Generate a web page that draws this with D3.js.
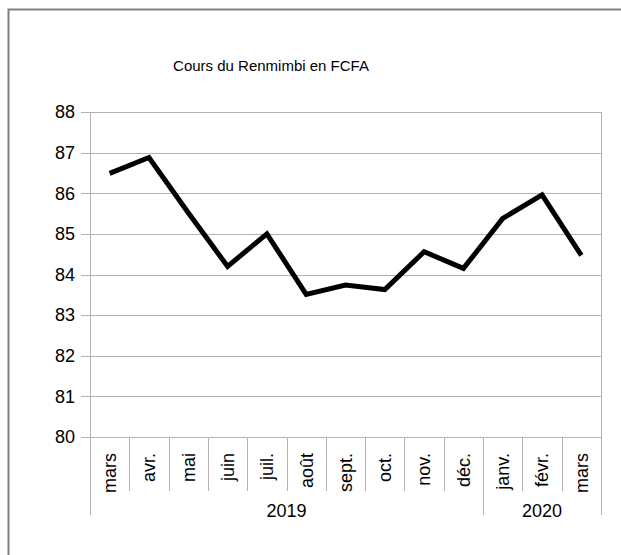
<!DOCTYPE html>
<html lang="fr">
<head>
    <meta charset="utf-8">
    <title>Cours du Renmimbi en FCFA</title>
    <script src="https://d3js.org/d3.v7.min.js"></script>
    <style>
        html, body {
            margin: 0;
            padding: 0;
            background: #fff;
        }
        text {
            font-family: "Liberation Sans", Arial, sans-serif;
            font-size: 18px;
            fill: #000;
        }
        text.title {
            font-size: 15px;
        }
        .grid line {
            stroke: #b3b3b3;
            stroke-width: 1px;
            shape-rendering: crispEdges;
        }
        path.line {
            fill: none;
            stroke: #000;
            stroke-width: 5px;
            stroke-linejoin: miter;
        }
    </style>
</head>
<body>
<script>

    // data
    var months = ["mars", "avr.", "mai", "juin", "juil.", "août", "sept.", "oct.", "nov.", "déc.", "janv.", "févr.", "mars"];
    var values = [86.49, 86.88, 85.52, 84.2, 85.0, 83.51, 83.74, 83.63, 84.56, 84.15, 85.38, 85.96, 84.47];
    var yearLabels = ["2019", "2020"];
    var yearCounts = [10, 3];
    var yTicks = [80, 81, 82, 83, 84, 85, 86, 87, 88];
    var title = "Cours du Renmimbi en FCFA";

    var w = 621, h = 555;
    var plotL = 90, plotR = 601, plotT = 112, plotB = 437;

    var svg = d3.select("body").append("svg")
        .attr("width", w)
        .attr("height", h);

    // outer frame
    svg.append("rect")
        .attr("x", 8.5).attr("y", 9.5)
        .attr("width", 700).attr("height", 700)
        .attr("fill", "none")
        .attr("stroke", "#808080")
        .attr("stroke-width", 2);

    svg.append("text")
        .attr("class", "title")
        .attr("x", 271)
        .attr("y", 71)
        .attr("text-anchor", "middle")
        .text(title);

    var xScale = d3.scaleBand()
        .domain(d3.range(months.length))
        .range([plotL, plotR])
        .padding(0);

    var yScale = d3.scaleLinear()
        .domain([80, 88])
        .range([plotB, plotT]);

    // horizontal grid + y ticks
    var grid = svg.append("g").attr("class", "grid");
    grid.selectAll("line.h")
        .data(yTicks)
        .enter().append("line")
        .attr("class", "h")
        .attr("x1", plotL - 9)
        .attr("x2", plotR)
        .attr("y1", d => Math.round(yScale(d)) + 0.5)
        .attr("y2", d => Math.round(yScale(d)) + 0.5);

    // vertical border lines of plot
    grid.append("line")
        .attr("x1", plotL + 0.5).attr("x2", plotL + 0.5)
        .attr("y1", plotT).attr("y2", plotB);
    grid.append("line")
        .attr("x1", plotR + 0.5).attr("x2", plotR + 0.5)
        .attr("y1", plotT).attr("y2", plotB);

    svg.selectAll("text.ylab")
        .data(yTicks)
        .enter().append("text")
        .attr("class", "ylab")
        .attr("x", 75)
        .attr("y", d => yScale(d))
        .attr("dy", "0.35em")
        .attr("text-anchor", "end")
        .text(d => d);

    // category ticks below the axis
    var bounds = d3.range(months.length + 1).map(i => i < months.length ? xScale(i) : plotR);
    var yearBounds = [0];
    yearCounts.forEach(c => yearBounds.push(yearBounds[yearBounds.length - 1] + c));

    grid.selectAll("line.v")
        .data(bounds.map((b, i) => i))
        .enter().append("line")
        .attr("class", "v")
        .attr("x1", i => Math.round(bounds[i]) + 0.5)
        .attr("x2", i => Math.round(bounds[i]) + 0.5)
        .attr("y1", plotB)
        .attr("y2", i => yearBounds.indexOf(i) >= 0 ? 515 : 491);

    svg.selectAll("text.mlab")
        .data(months)
        .enter().append("text")
        .attr("class", "mlab")
        .attr("text-anchor", "end")
        .attr("dy", "0.35em")
        .attr("transform", (d, i) => "translate(" + (xScale(i) + xScale.bandwidth() / 2) + ",453) rotate(-90)")
        .text(d => d);

    svg.selectAll("text.yearlab")
        .data(yearLabels)
        .enter().append("text")
        .attr("class", "yearlab")
        .attr("text-anchor", "middle")
        .attr("x", (d, i) => (bounds[yearBounds[i]] + bounds[yearBounds[i + 1]]) / 2)
        .attr("y", 517)
        .text(d => d);

    var line = d3.line()
        .x((d, i) => xScale(i) + xScale.bandwidth() / 2)
        .y(d => yScale(d));

    svg.append("path")
        .datum(values)
        .attr("class", "line")
        .attr("d", line);

</script>
</body>
</html>
